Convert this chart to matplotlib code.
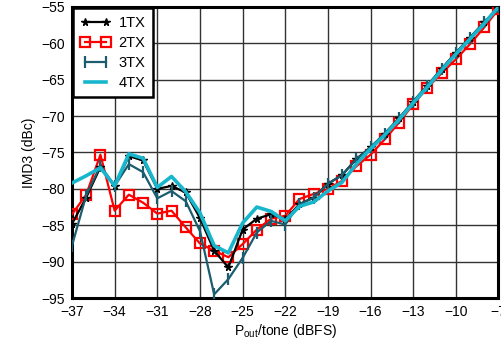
import matplotlib
matplotlib.use("Agg")
import matplotlib.pyplot as plt

plt.rcParams['font.family'] = ['Liberation Sans', 'DejaVu Sans']
plt.rcParams['mathtext.fontset'] = 'custom'
plt.rcParams['mathtext.rm'] = 'Liberation Sans'

# P_out per tone (dBFS), one point per dB
pout = list(range(-37, -6))

imd_1tx = [-84.8, -81.2, -77.0, -79.6, -75.5, -76.1, -80.0, -79.6, -80.5, -84.0,
           -88.5, -90.8, -85.6, -84.1, -83.5, -84.2, -82.1, -81.2, -79.3, -78.1,
           -75.9, -74.3, -72.4, -70.3, -68.0, -65.8, -63.5, -61.3, -59.2, -57.1, -55.1]
imd_2tx = [-83.5, -80.8, -75.3, -83.0, -80.8, -81.9, -83.4, -83.0, -85.3, -87.5,
           -88.5, -89.4, -87.6, -85.6, -84.1, -83.7, -81.4, -80.7, -80.0, -78.9,
           -76.9, -75.3, -73.2, -70.9, -68.4, -66.1, -64.1, -62.2, -60.1, -57.8, -55.3]
imd_3tx = [-87.8, -80.9, -76.8, -79.6, -76.6, -77.7, -81.3, -80.3, -81.7, -85.8,
           -94.5, -92.4, -89.5, -86.0, -84.4, -84.9, -82.1, -81.2, -79.3, -78.1,
           -75.9, -74.3, -72.4, -70.3, -68.0, -65.8, -63.5, -61.3, -59.2, -57.1, -55.0]
imd_4tx = [-79.2, -78.2, -77.1, -79.6, -75.2, -75.8, -79.8, -78.3, -80.4, -83.3,
           -87.8, -88.8, -84.7, -82.5, -83.1, -84.4, -82.4, -81.8, -80.3, -79.1,
           -76.6, -74.5, -72.6, -70.5, -68.2, -66.0, -63.7, -61.5, -59.4, -57.3, -55.0]

xticks = list(range(-37, -6, 3))
yticks = list(range(-95, -54, 5))

fig = plt.figure(figsize=(5.02, 3.47), dpi=100)
ax = fig.add_axes([0.1434, 0.1412, 0.8496, 0.8388])

ax.plot(pout, imd_1tx, color='black', lw=1.6, marker='*', ms=5.5, label='1TX', zorder=4)
ax.plot(pout, imd_2tx, color='#ff0000', lw=1.6, marker='s', ms=6.5, mfc='none',
        mew=1.6, label='2TX', zorder=3)
ax.plot(pout, imd_3tx, color='#1b5c6e', lw=1.6, marker='|', ms=8, mew=1.6,
        label='3TX', zorder=5)
ax.plot(pout, imd_4tx, color='#17b6cc', lw=2.6, label='4TX', zorder=6)

ax.set_xlim(-37, -7)
ax.set_ylim(-95, -55)
ax.set_xticks(xticks)
ax.set_yticks(yticks)
ax.tick_params(length=0, pad=5, labelsize=10)
ax.grid(True, color='#333333', lw=1.0)
ax.set_axisbelow(True)
for s in ax.spines.values():
    s.set_linewidth(2.2)

ax.set_xlabel(r'P$_{\mathrm{out}}$/tone (dBFS)', fontsize=10, labelpad=2)
ax.set_ylabel('IMD3 (dBc)', fontsize=10, labelpad=4)

leg = ax.legend(loc='upper left', fontsize=10.5, fancybox=False, framealpha=1,
                edgecolor='black', borderaxespad=0.1, handlelength=2.0,
                numpoints=2, labelspacing=0.42, borderpad=0.5, handletextpad=0.6)
leg.get_frame().set_linewidth(1.8)

fig.savefig('out.png', dpi=100)
